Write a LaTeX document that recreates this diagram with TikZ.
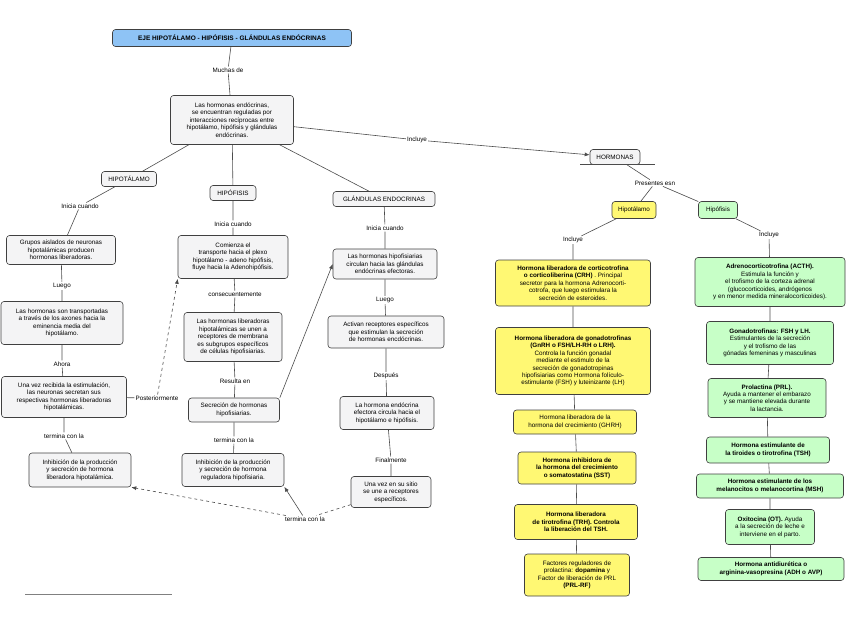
\documentclass[tikz,border=0pt]{standalone}
\usepackage{fontspec}
\setmainfont{Liberation Sans}
\usetikzlibrary{arrows.meta}
\definecolor{titleblue}{HTML}{8EC3F5}
\begin{document}
\begin{tikzpicture}[x=1pt,y=-1pt,
 every node/.style={font=\fontsize{6.3}{7.4}\selectfont,align=center,inner sep=1pt},
 box/.style={draw=black!75,line width=0.6pt,rounded corners=3pt,fill=blue!4!gray!8,inner sep=2pt},
 ybox/.style={box,fill=yellow!55},
 gbox/.style={box,fill=green!22},
 lab/.style={fill=white,inner sep=1pt},
 ln/.style={draw=black!70,line width=0.6pt},
 arr/.style={ln,-{Latex[length=5pt,width=4pt]}},
 darr/.style={arr,dashed}]
\useasboundingbox (0,0) rectangle (848,638);
\node[box,fill=titleblue,minimum width=239pt,minimum height=17pt,font=\fontsize{6.5}{7.5}\selectfont\bfseries] (t) at (232,38) {EJE HIPOTÁLAMO - HIPÓFISIS - GLÁNDULAS ENDÓCRINAS};
\node[lab] (l1) at (228,70) {Muchas de};
\node[box,minimum width=123pt,minimum height=49pt] (m) at (232,120) {Las hormonas endócrinas,\\se encuentran reguladas por\\interacciones recíprocas entre\\hipotálamo, hipófisis y glándulas\\endócrinas.};
\draw[ln] (t) -- (l1) -- (m);
\node[box,minimum width=55pt,minimum height=15pt] (ht) at (129,179) {HIPOTÁLAMO};
\node[box,minimum width=46pt,minimum height=15pt] (hf) at (233,193) {HIPÓFISIS};
\node[box,minimum width=102pt,minimum height=15pt] (ge) at (384,199) {GLÁNDULAS ENDOCRINAS};
\draw[ln] (m) -- (ht); \draw[ln] (m) -- (hf); \draw[ln] (m) -- (ge);
% hipotalamo column
\node[lab] (a1) at (80,206) {Inicia cuando};
\node[box,minimum width=109pt,minimum height=29pt] (a2) at (61,250) {Grupos aislados de neuronas\\hipotalámicas producen\\hormonas liberadoras.};
\node[lab] (a3) at (62,286) {Luego};
\node[box,minimum width=122pt,minimum height=43pt] (a4) at (62,323) {Las hormonas son transportadas\\a través de los axones hacia la\\eminencia media del\\hipotálamo.};
\node[lab] (a5) at (62,364) {Ahora};
\node[box,minimum width=125pt,minimum height=41pt] (a6) at (64,397) {Una vez recibida la estimulación,\\las neuronas secretan sus\\respectivas hormonas liberadoras\\hipotalámicas.};
\node[lab] (a7) at (64,436) {termina con la};
\node[box,minimum width=102pt,minimum height=34pt] (a8) at (80,470) {Inhibición de la producción\\y secreción de hormona\\liberadora hipotalámica.};
\draw[ln] (ht) -- (a1) -- (a2) -- (a3) -- (a4) -- (a5) -- (a6) -- (a7) -- (a8);
\node[lab] (p) at (157,398) {Posteriormente};
% hipofisis column
\node[lab] (b1) at (233,224) {Inicia cuando};
\node[box,minimum width=110pt,minimum height=43pt] (b2) at (233,257) {Comienza el\\transporte hacia el plexo\\hipotálamo - adeno hipófisis,\\fluye hacia la Adenohipófisis.};
\node[lab] (b3) at (235,294) {consecuentemente};
\node[box,minimum width=98pt,minimum height=49pt] (b4) at (233,337) {Las hormonas liberadoras\\hipotalámicas se unen a\\receptores de membrana\\es subgrupos específicos\\de células hipofisiarias.};
\node[lab] (b5) at (235,381) {Resulta en};
\node[box,minimum width=91pt,minimum height=24pt] (b6) at (234,410) {Secreción de hormonas\\hipofisiarias.};
\node[lab] (b7) at (234,440) {termina con la};
\node[box,minimum width=102pt,minimum height=33pt] (b8) at (233,470) {Inhibición de la producción\\y secreción de hormona\\reguladora hipofisiaria.};
\draw[ln] (hf) -- (b1) -- (b2) -- (b3) -- (b4) -- (b5) -- (b6) -- (b7) -- (b8);
\draw[ln] (a6) -- (p); \draw[darr] (p) -- (b2.south west);
% glandulas column
\node[lab] (c1) at (385,228) {Inicia cuando};
\node[box,minimum width=104pt,minimum height=30pt] (c2) at (385,264) {Las hormonas hipofisiarias\\circulan hacia las glándulas\\endócrinas efectoras.};
\node[lab] (c3) at (385,300) {Luego};
\node[box,minimum width=116pt,minimum height=32pt] (c4) at (386,332) {Activan receptores específicos\\que estimulan la secreción\\de hormonas encdócrinas.};
\node[lab] (c5) at (386,376) {Después};
\node[box,minimum width=94pt,minimum height=33pt] (c6) at (387,413) {La hormona endócrina\\efectora circula hacia el\\hipotálamo e hipófisis.};
\node[lab] (c7) at (391,460) {Finalmente};
\node[box,minimum width=80pt,minimum height=31pt] (c8) at (391,492) {Una vez en su sitio\\se une a receptores\\específicos.};
\draw[ln] (ge) -- (c1) -- (c2) -- (c3) -- (c4) -- (c5) -- (c6) -- (c7) -- (c8);
\draw[arr] (b6.north east) -- (c2.west);
\node[lab] (tc) at (305,519) {termina con la};
\draw[ln,dashed] (c8) -- (tc);
\draw[darr] (tc) -- (a8.south east);
\draw[arr] (tc) -- (b8.south east);
% right part
\node[lab] (inc) at (417,140) {Incluye};
\node[box,minimum width=50pt,minimum height=15pt] (H) at (615,157) {HORMONAS};
\draw[ln] (m) -- (inc); \draw[arr] (inc) -- (H);
\coordinate (u1) at (580,164); \coordinate (u2) at (655,164);
\draw[ln] (u1) -- (u2);
\node[lab] (pr) at (655,183) {Presentes esn};
\node[ybox,minimum width=44pt,minimum height=17pt] (Y) at (634,210) {Hipotálamo};
\node[gbox,minimum width=39pt,minimum height=17pt] (G) at (718,210) {Hipófisis};
\draw[ln] (H) -- (pr) -- (Y); \draw[ln] (pr) -- (G);
\node[lab] (yi) at (573,240) {Incluye};
\node[lab] (gi) at (769,235) {Incluye};
\node[ybox,minimum width=155pt,minimum height=46pt] (y1) at (573,283) {\textbf{Hormona liberadora de corticotrofina}\\\textbf{o corticoliberina (CRH)} . Principal\\secretor para la hormona Adrenocorti-\\cotrofa, que luego estimulara la\\secreción de esteroides.};
\node[ybox,minimum width=155pt,minimum height=67pt] (y2) at (573,361) {\textbf{Hormona liberadora de gonadotrofinas}\\\textbf{(GnRH o FSH/LH-RH o LRH).}\\Controla la función gonadal\\mediante el estimulo de la\\secreción de gonadotropinas\\hipofisiarias como Hormona folículo-\\estimulante (FSH) y luteinizante (LH)};
\node[ybox,minimum width=123pt,minimum height=24pt] (y3) at (575,422) {Hormona liberadora de la\\hormona del crecimiento (GHRH)};
\node[ybox,minimum width=118pt,minimum height=32pt] (y4) at (577,468) {\textbf{Hormona inhibidora de}\\\textbf{la hormona del crecimiento}\\\textbf{o somatostatina (SST)}};
\node[ybox,minimum width=123pt,minimum height=35pt] (y5) at (576,522) {\textbf{Hormona liberadora}\\\textbf{de tirotrofina (TRH). Controla}\\\textbf{la liberación del TSH.}};
\node[ybox,minimum width=105pt,minimum height=42pt] (y6) at (577,575) {Factores reguladores de\\prolactina: \textbf{dopamina} y\\Factor de liberación de PRL\\\textbf{(PRL-RF)}};
\draw[ln] (Y) -- (yi) -- (y1) -- (y2) -- (y3) -- (y4) -- (y5) -- (y6);
\node[gbox,minimum width=150pt,minimum height=49pt] (g1) at (770,282) {\textbf{Adrenocorticotrofina (ACTH).}\\Estimula la función y\\el trofismo de la corteza adrenal\\(glucocorticoides, andrógenos\\y en menor medida mineralocorticoides).};
\node[gbox,minimum width=127pt,minimum height=43pt] (g2) at (770,343) {\textbf{Gonadotrofinas: FSH y LH.}\\Estimulantes de la secreción\\y el trofismo de las\\gónadas femeninas y masculinas};
\node[gbox,minimum width=118pt,minimum height=39pt] (g3) at (767,398) {\textbf{Prolactina (PRL).}\\Ayuda a mantener el embarazo\\y se mantiene elevada durante\\la lactancia.};
\node[gbox,minimum width=123pt,minimum height=26pt] (g4) at (768,450) {\textbf{Hormona estimulante de}\\\textbf{la tiroides o tirotrofina (TSH)}};
\node[gbox,minimum width=147pt,minimum height=24pt] (g5) at (770,486) {\textbf{Hormona estimulante de los}\\\textbf{melanocitos o melanocortina (MSH)}};
\node[gbox,minimum width=89pt,minimum height=35pt] (g6) at (770,527) {\textbf{Oxitocina (OT).} Ayuda\\a la secreción de leche e\\interviene en el parto.};
\node[gbox,minimum width=146pt,minimum height=23pt] (g7) at (771,569) {\textbf{Hormona antidiurética o}\\\textbf{arginina-vasopresina (ADH o AVP)}};
\draw[ln] (G) -- (gi) -- (g1) -- (g2) -- (g3) -- (g4) -- (g5) -- (g6) -- (g7);
\coordinate (z1) at (25,594); \coordinate (z2) at (172,594);
\draw[black!50,line width=0.5pt] (z1) -- (z2);
\end{tikzpicture}
\end{document}
